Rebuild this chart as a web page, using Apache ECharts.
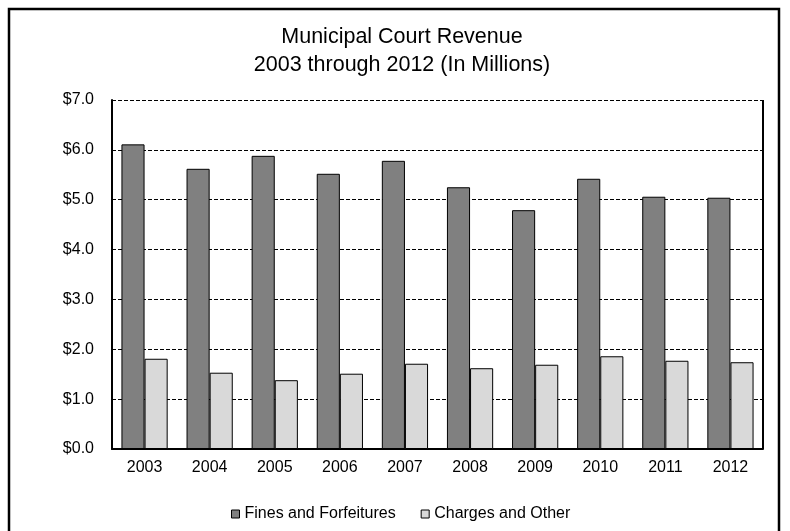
<!DOCTYPE html>
<html>
<head>
<meta charset="utf-8">
<script src="https://cdn.jsdelivr.net/npm/echarts@6/dist/echarts.min.js"></script>
<style>
  html, body { margin: 0; padding: 0; background: #fff; }
  #chart { width: 790px; height: 531px; }
</style>
</head>
<body>
<div id="chart"></div>
<script>
// Municipal court revenue by fiscal year, in millions of dollars
const years = ['2003', '2004', '2005', '2006', '2007', '2008', '2009', '2010', '2011', '2012'];
const finesAndForfeitures = [6.11, 5.62, 5.88, 5.52, 5.78, 5.25, 4.79, 5.42, 5.06, 5.04];
const chargesAndOther = [1.81, 1.53, 1.38, 1.51, 1.71, 1.62, 1.69, 1.86, 1.77, 1.74];
const seriesNames = ['Fines and Forfeitures', 'Charges and Other'];

const font = 'Liberation Sans, Arial, sans-serif';
const chart = echarts.init(document.getElementById('chart'), null, { renderer: 'canvas' });

chart.setOption({
  animation: false,
  backgroundColor: '#fff',
  title: {
    text: 'Municipal Court Revenue\n2003 through 2012 (In Millions)',
    left: 397,
    textAlign: 'center',
    top: 18,
    textStyle: { fontFamily: font, fontSize: 21.5, fontWeight: 'normal', color: '#000', lineHeight: 28 }
  },
  legend: {
    data: seriesNames,
    bottom: 9,
    left: 231,
    padding: 0,
    itemWidth: 8,
    itemHeight: 8,
    itemGap: 25,
    icon: 'rect',
    textStyle: { fontFamily: font, fontSize: 16, color: '#000' },
    itemStyle: { borderColor: '#000', borderWidth: 1 }
  },
  grid: { left: 112, right: 27, top: 100, bottom: 82, containLabel: false },
  xAxis: {
    type: 'category',
    data: years,
    axisLine: { show: true, lineStyle: { color: '#000', width: 2 } },
    axisTick: { show: false },
    axisLabel: { fontFamily: font, fontSize: 16, color: '#000', margin: 11 }
  },
  yAxis: {
    type: 'value',
    min: 0,
    max: 7,
    interval: 1,
    axisLine: { show: true, lineStyle: { color: '#000', width: 2 } },
    axisTick: { show: false },
    axisLabel: { fontFamily: font, fontSize: 16, color: '#000', margin: 18,
                 formatter: v => '$' + v.toFixed(1) },
    splitLine: { show: true, lineStyle: { color: '#000', width: 1, type: [4, 2] } }
  },
  series: [
    {
      name: seriesNames[0],
      type: 'bar',
      data: finesAndForfeitures,
      barGap: '0%',
      barCategoryGap: '29%',
      itemStyle: { color: '#808080', borderColor: '#000', borderWidth: 1 }
    },
    {
      name: seriesNames[1],
      type: 'bar',
      data: chargesAndOther,
      itemStyle: { color: '#d9d9d9', borderColor: '#000', borderWidth: 1 }
    }
  ],
  graphic: [
    // outer chart frame
    { type: 'rect', shape: { x: 9, y: 9, width: 770, height: 540 },
      style: { fill: 'none', stroke: '#000', lineWidth: 2.5 }, silent: true },
    // right edge of the plot box
    { type: 'line', shape: { x1: 763, y1: 100, x2: 763, y2: 449 },
      style: { stroke: '#000', lineWidth: 2 }, silent: true }
  ]
});
</script>
</body>
</html>
